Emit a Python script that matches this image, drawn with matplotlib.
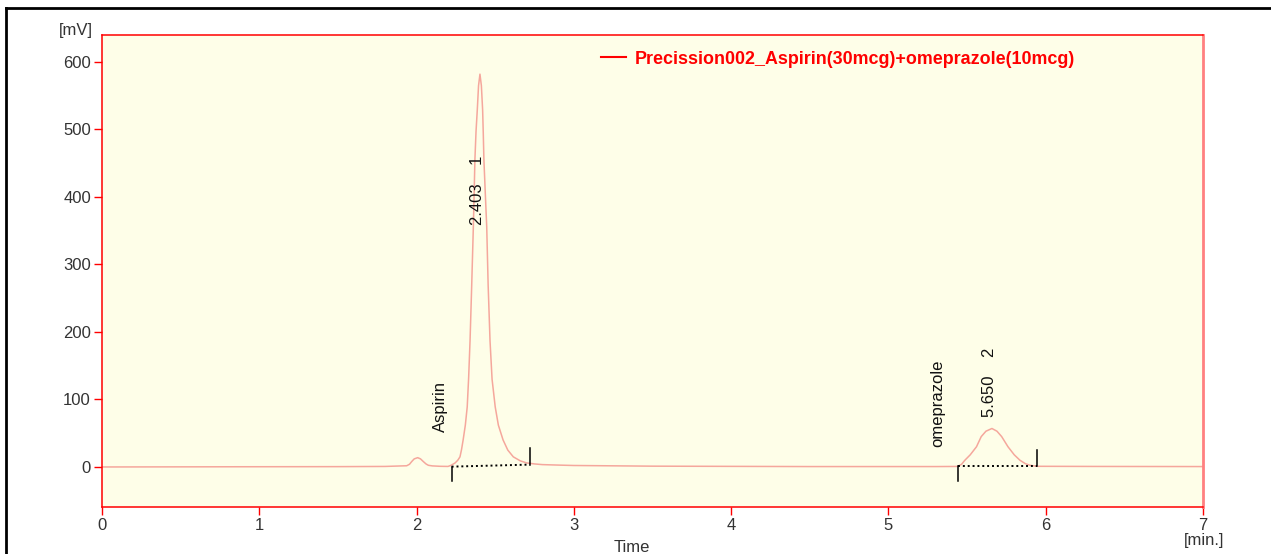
import matplotlib
matplotlib.use("Agg")
import matplotlib.pyplot as plt
from matplotlib.lines import Line2D

plt.rcParams['font.family'] = ['Liberation Sans', 'DejaVu Sans']

# trazo del cromatograma (tiempo en min, señal en mV)
tiempo = [0.00, 0.80, 1.50, 1.80, 1.895, 1.937, 1.955, 1.969, 1.985, 2.007,
          2.025, 2.043, 2.060, 2.075, 2.10, 2.15, 2.20, 2.22, 2.245, 2.262,
          2.276, 2.286, 2.296, 2.310, 2.322, 2.331, 2.340, 2.350, 2.361, 2.366,
          2.371, 2.378, 2.386, 2.394, 2.403, 2.412, 2.420, 2.424, 2.428, 2.437,
          2.446, 2.455, 2.467, 2.480, 2.500, 2.520, 2.550, 2.580, 2.615, 2.660,
          2.700, 2.750, 2.800, 2.900, 3.00, 3.50, 4.50, 5.30, 5.44, 5.465,
          5.486, 5.52, 5.56, 5.59, 5.62, 5.658, 5.69, 5.72, 5.76, 5.80,
          5.836, 5.87, 5.90, 5.944, 6.30, 7.00]
senal = [0.0, 0.3, 0.5, 0.8, 1.5, 1.8, 4.0, 8.0, 12.0, 13.8,
         12.0, 8.0, 4.5, 2.5, 1.6, 1.0, 0.8, 2.5, 6.0, 10.0,
         15.0, 26.0, 40.0, 62.0, 89.0, 132.0, 187.0, 265.0, 356.0, 405.0,
         456.0, 497.0, 529.0, 565.0, 582.0, 565.0, 529.0, 495.0, 456.0, 405.0,
         356.0, 270.0, 187.0, 130.0, 89.0, 62.0, 40.0, 25.0, 15.0, 9.0,
         6.0, 4.5, 3.5, 2.8, 2.2, 1.2, 0.6, 0.6, 0.8, 4.0,
         10.0, 18.0, 30.0, 45.0, 53.0, 57.0, 53.0, 45.0, 30.0, 18.0,
         10.0, 5.0, 2.5, 1.0, 0.8, 0.6]

# picos integrados: inicio, fin, linea base, etiquetas
pico_ini_t = [2.223, 5.440]
pico_ini_y = [0.5, 0.8]
pico_fin_t = [2.719, 5.944]
pico_fin_y = [3.5, 0.8]
pico_tr = ["2.403", "5.650"]
pico_num = ["1", "2"]
pico_tr_t = [2.39, 5.64]
pico_tr_y = [358, 74]
compuestos = ["Aspirin", "omeprazole"]
comp_t = [2.15, 5.315]
comp_y = [52, 30]

nombre = "Precission002_Aspirin(30mcg)+omeprazole(10mcg)"

fig = plt.figure(figsize=(12.71, 5.54), dpi=100)
ax = fig.add_axes([102/1271, 47/554, 1101/1271, 472/554])
ax.set_facecolor('#fefee8')

ax.plot(tiempo, senal, color='#f5a79c', lw=1.1)

# lineas base punteadas y marcas de integracion
for i in range(len(pico_ini_t)):
    ax.plot([pico_ini_t[i], pico_fin_t[i]], [pico_ini_y[i], pico_fin_y[i]],
            color='black', ls=(0, (1, 1.5)), lw=1.4)
    ax.plot([pico_ini_t[i], pico_ini_t[i]], [pico_ini_y[i], pico_ini_y[i] - 22],
            color='black', lw=1.1)
    ax.plot([pico_fin_t[i], pico_fin_t[i]], [pico_fin_y[i], pico_fin_y[i] + 24],
            color='black', lw=1.1)
    ax.text(pico_tr_t[i], pico_tr_y[i], pico_tr[i] + "    " + pico_num[i],
            rotation=90, ha='center', va='bottom', fontsize=12, color='#111111')
    ax.text(comp_t[i], comp_y[i], compuestos[i], rotation=90,
            ha='center', va='bottom', fontsize=12, color='#111111')

ax.set_xlim(0, 7)
ax.set_ylim(-59.3, 640)
ax.set_xticks(range(0, 8))
ax.set_yticks(range(0, 700, 100))
ax.tick_params(direction='out', color='red', length=6, width=1,
               labelsize=12, labelcolor='#333333', pad=2)

for lado in ['left', 'bottom', 'top']:
    ax.spines[lado].set_color('red')
    ax.spines[lado].set_linewidth(1.1)
ax.spines['right'].set_color('#ff8080')
ax.spines['right'].set_linewidth(2)

fig.text(93/1271, 1 - 30/554, "[mV]", ha='right', va='center',
         fontsize=12, color='#333333')
fig.text(632/1271, 1 - 547/554, "Time", ha='center', va='center',
         fontsize=12, color='#333333')
fig.text(1204/1271, 1 - 541/554, "[min.]", ha='center', va='center',
         fontsize=12, color='#333333')

# leyenda
leg = ax.legend(handles=[Line2D([], [], color='red', lw=1.5)], labels=[nombre],
                loc='center left', bbox_to_anchor=(601/1271, 1 - 59/554),
                bbox_transform=fig.transFigure, frameon=False, borderpad=0,
                borderaxespad=0, handlelength=1.4, handletextpad=0.5,
                prop={'weight': 'bold', 'size': 12.9})
for t in leg.get_texts():
    t.set_color('red')

# marco negro exterior
fig.add_artist(Line2D([5.5/1271, 5.5/1271], [0, 1 - 8/554], color='black',
                      lw=2, transform=fig.transFigure))
fig.add_artist(Line2D([5.5/1271, 1], [1 - 8/554, 1 - 8/554], color='black',
                      lw=2, transform=fig.transFigure))

fig.savefig('out.png', dpi=100)
